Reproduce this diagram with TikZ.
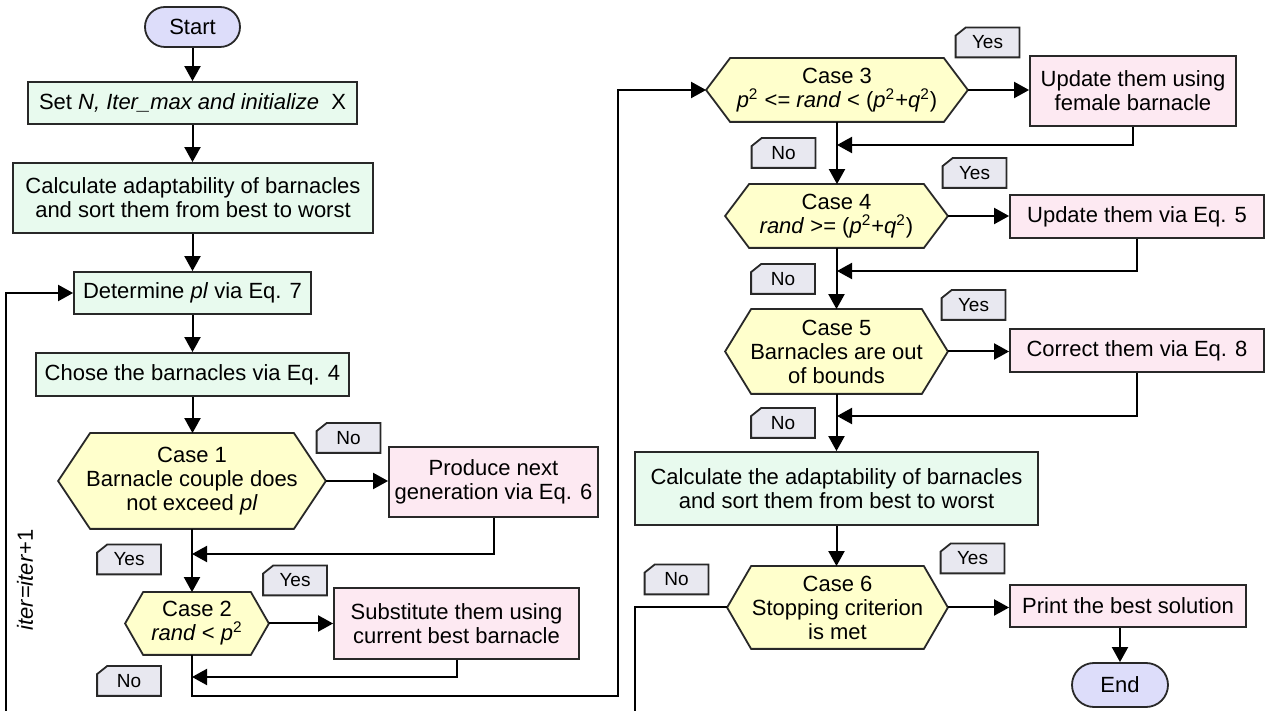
\documentclass[tikz,border=0pt]{standalone}
\usepackage{fontspec}
\setmainfont{Liberation Sans}
\usetikzlibrary{arrows.meta,backgrounds,calc}
\definecolor{termfill}{RGB}{221,221,250}
\definecolor{procfill}{RGB}{232,250,238}
\definecolor{pinkfill}{RGB}{253,233,242}
\definecolor{hexfill}{RGB}{255,255,204}
\definecolor{tagfill}{RGB}{232,232,240}
\definecolor{edgec}{RGB}{40,40,40}
\tikzset{
  base/.style={inner sep=0pt, align=center, font=\fontsize{11}{12}\selectfont, line width=0.9pt},
  term/.style={base, draw=edgec, fill=termfill},
  proc/.style={base, draw=edgec, fill=procfill},
  pink/.style={base, draw=edgec, fill=pinkfill},
  hexn/.style={base},
  hexdraw/.style={draw=edgec, fill=hexfill, line width=0.9pt},
  tagn/.style={inner sep=0pt, font=\fontsize{9.5}{10}\selectfont, minimum width=31.5pt, minimum height=14.5pt},
  tagdraw/.style={draw=edgec, fill=tagfill, line width=0.9pt},
  conn/.style={line width=1pt, black},
  arr/.style={conn, -{Triangle[length=7.5pt,width=8pt]}},
}
\begin{document}
\begin{tikzpicture}[x=0.5pt,y=-0.5pt]
\useasboundingbox (0,0) rectangle (1266,711);
% left column
\node[term, minimum width=47.5pt, minimum height=20pt, rounded corners=10pt] (start) at (192.5,27) {Start};
\node[proc, minimum width=164.5pt, minimum height=21pt] (set) at (192.5,103) {Set \textit{N, Iter\_max and initialize}\ \ X};
\node[proc, minimum width=180pt, minimum height=35pt] (calc) at (193,198) {Calculate adaptability of barnacles\\and sort them from best to worst};
\node[proc, minimum width=118.5pt, minimum height=21pt] (det) at (192.5,293) {Determine \textit{pl} via Eq. 7};
\node[proc, minimum width=156.5pt, minimum height=21.5pt] (chose) at (192.5,374.5) {Chose the barnacles via Eq. 4};
\node[hexn, minimum width=133pt, minimum height=47pt] (c1) at (192,481) {Case 1\\Barnacle couple does\\not exceed \textit{pl}};
\node[pink, minimum width=104.5pt, minimum height=35pt] (prod) at (493.5,482) {Produce next\\generation via Eq. 6};
\node[hexn, minimum width=71pt, minimum height=30.5pt] (c2) at (197,623.5) {Case 2\\\textit{rand} < \textit{p}\textsuperscript{2}};
\node[pink, minimum width=122.5pt, minimum height=35.5pt] (sub) at (456.5,623.5) {Substitute them using\\current best barnacle};
% right column
\node[hexn, minimum width=130pt, minimum height=31pt] (c3) at (837,90) {Case 3\\\textit{p}\textsuperscript{2} <= \textit{rand} < (\textit{p}\textsuperscript{2}+\textit{q}\textsuperscript{2})};
\node[pink, minimum width=103pt, minimum height=35pt] (fem) at (1133,91) {Update them using\\female barnacle};
\node[hexn, minimum width=110.5pt, minimum height=31pt] (c4) at (836.5,216) {Case 4\\\textit{rand} >= (\textit{p}\textsuperscript{2}+\textit{q}\textsuperscript{2})};
\node[pink, minimum width=127pt, minimum height=21.5pt] (eq5) at (1137,216.5) {Update them via Eq. 5};
\node[hexn, minimum width=110.5pt, minimum height=41.5pt] (c5) at (836.5,351.5) {Case 5\\Barnacles are out\\of bounds};
\node[pink, minimum width=127pt, minimum height=21.5pt] (corr) at (1137,350.5) {Correct them via Eq. 8};
\node[proc, minimum width=201.5pt, minimum height=36.5pt] (calc2) at (836.5,488.5) {Calculate the adaptability of barnacles\\and sort them from best to worst};
\node[hexn, minimum width=109.5pt, minimum height=40.5pt] (c6) at (837.5,607.5) {Case 6\\Stopping criterion\\is met};
\node[pink, minimum width=118pt, minimum height=21pt] (print) at (1128,606) {Print the best solution};
\node[term, minimum width=48pt, minimum height=22pt, rounded corners=11pt] (end) at (1120,685) {End};
% tags
\node[tagn] (n1) at (348.5,438) {No};
\node[tagn] (y1) at (129,559.5) {Yes};
\node[tagn] (y2) at (295,580.5) {Yes};
\node[tagn] (n2) at (129,681) {No};
\node[tagn] (y3) at (987.5,42.5) {Yes};
\node[tagn] (n3) at (783.5,153) {No};
\node[tagn] (y4) at (974.5,173) {Yes};
\node[tagn] (n4) at (783,279) {No};
\node[tagn] (y5) at (973.5,305) {Yes};
\node[tagn] (n5) at (783,423) {No};
\node[tagn] (y6) at (972.5,558.5) {Yes};
\node[tagn] (n6) at (676.5,579.5) {No};
\node[rotate=90, inner sep=0pt, font=\fontsize{11}{12}\selectfont] (it) at (25,580) {\textit{iter}=\textit{iter}+1};
% shapes on background
\begin{scope}[on background layer]
\foreach \n/\i in {c1/16pt, c2/9pt, c3/12pt, c4/12pt, c5/13pt, c6/12pt}
  \draw[hexdraw] (\n.west) -- ([xshift=\i]\n.north west) -- ([xshift=-\i]\n.north east) -- (\n.east) -- ([xshift=-\i]\n.south east) -- ([xshift=\i]\n.south west) -- cycle;
\foreach \n in {n1,n2,n3,n4,n5,n6,y1,y2,y3,y4,y5,y6}
  \draw[tagdraw] (\n.south west) -- ([yshift=-4pt]\n.north west) -- ([xshift=5pt]\n.north west) -- (\n.north east) -- (\n.south east) -- cycle;
\end{scope}
% connectors
\coordinate (j1) at (192,554);
\coordinate (j2) at (192,677);
\coordinate (k1) at (192,696);
\coordinate (k2) at (618,696);
\coordinate (j3) at (837,145);
\coordinate (j4) at (837,271);
\coordinate (j5) at (837,416);
\coordinate (b1) at (635,712);
\coordinate (b2) at (6,712);
\draw[arr] (start.south) -- (start.south |- set.north);
\draw[arr] (set.south) -- (set.south |- calc.north);
\draw[arr] (calc.south -| det.north) -- (det.north);
\draw[arr] (det.south) -- (det.south |- chose.north);
\draw[arr] (chose.south) -- (chose.south |- c1.north);
\draw[arr] (c1.south) -- (c1.south |- c2.north);
\draw[arr] (c1.east) -- (c1.east -| prod.west);
\draw[arr] (prod.south) |- (j1);
\draw[arr] (c2.east) -- (c2.east -| sub.west);
\draw[arr] (sub.south) |- (j2);
\draw[arr] (c2.south -| k1) -- (k1) -- (k2) |- (c3.west);
\draw[arr] (c3.east) -- (c3.east -| fem.west);
\draw[arr] (fem.south) |- (j3);
\draw[arr] (c3.south) -- (c3.south |- c4.north);
\draw[arr] (c4.east) -- (c4.east -| eq5.west);
\draw[arr] (eq5.south) |- (j4);
\draw[arr] (c4.south) -- (c4.south |- c5.north);
\draw[arr] (c5.east) -- (c5.east -| corr.west);
\draw[arr] (corr.south) |- (j5);
\draw[arr] (c5.south) -- (c5.south |- calc2.north);
\draw[arr] (calc2.south) -- (calc2.south |- c6.north);
\draw[arr] (c6.east) -- (c6.east -| print.west);
\draw[arr] (end.north |- print.south) -- (end.north);
\draw[conn] (c6.west) -| (b1);
\draw[arr] (b2) |- (det.west);
\end{tikzpicture}
\end{document}
